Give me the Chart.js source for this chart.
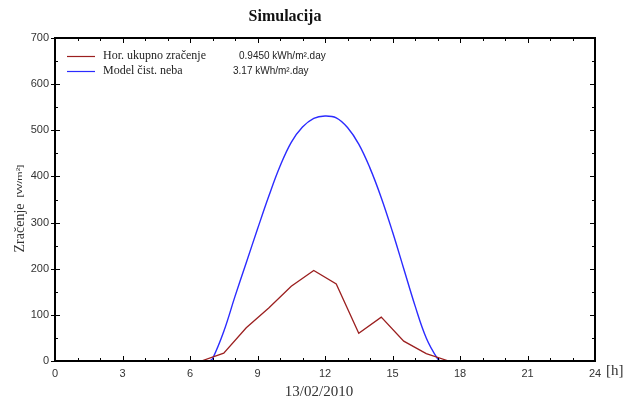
<!DOCTYPE html>
<html>
<head>
<meta charset="utf-8">
<script src="https://cdn.jsdelivr.net/npm/chart.js@4.4.1/dist/chart.umd.min.js"></script>
<style>
html,body{margin:0;padding:0;background:#fff;}
#wrap{width:626px;height:400px;}
</style>
</head>
<body>
<div id="wrap"><canvas id="c" width="626" height="400"></canvas></div>
<script>
// ---- data ----
const redHours  = [0.5,1.5,2.5,3.5,4.5,5.5,6.5,7.5,8.5,9.5,10.5,11.5,12.5,13.5,14.5,15.5,16.5,17.5,18.5,19.5,20.5,21.5,22.5];
const redValues = [0,0,0,0,0,0,0,17,72,115,162,196,167,60,95,43,16,0,0,0,0,0,0];
const blueHours  = [6.85,7.0,7.5,8.0,8.5,9.0,9.5,10.0,10.5,11.0,11.5,12.0,12.5,13.0,13.5,14.0,14.5,15.0,15.5,16.0,16.5,17.0,17.15];
const blueValues = [0,5,64,140,213,286,357,422,474,507,526,531,527,506,470,418,354,280,200,120,50,5,0];
const xTicks = [0,3,6,9,12,15,18,21,24];
const yTicks = [0,100,200,300,400,500,600,700];
const seriesNames = ['Hor. ukupno zra\u010denje','Model \u010dist. neba'];
const seriesTotals = ['0.9450 kWh/m\u00b2.day','3.17 kWh/m\u00b2.day'];
const titleText = 'Simulacija';
const yTitle = 'Zra\u010denje';
const yUnit = '[W/m\u00b2]';
const xTitle = '13/02/2010';
const xUnit = '[h]';

const RED = '#9b1f1f';
const BLUE = '#2b2bff';

const toPts = (xs, ys) => xs.map((x, i) => ({x: x, y: ys[i]}));

const decor = {
  id: 'decor',
  afterDatasetsDraw(chart) {
    const ctx = chart.ctx;
    const a = chart.chartArea;
    const xs = chart.scales.x, ys = chart.scales.y;
    ctx.save();
    ctx.strokeStyle = '#000';
    ctx.lineWidth = 2;
    ctx.strokeRect(a.left, a.top, a.right - a.left, a.bottom - a.top);
    ctx.lineWidth = 1;
    ctx.beginPath();
    for (let h = 0; h <= 24; h++) {
      const px = Math.round(xs.getPixelForValue(h)) + 0.5;
      const len = (h % 3 === 0) ? 5 : 3;
      ctx.moveTo(px, a.bottom); ctx.lineTo(px, a.bottom - len);
      ctx.moveTo(px, a.top); ctx.lineTo(px, a.top + len);
    }
    for (let v = 0; v <= 700; v += 50) {
      const py = Math.round(ys.getPixelForValue(v)) + 0.5;
      const major = v % 100 === 0;
      ctx.moveTo(a.left - (major ? 4 : 0), py); ctx.lineTo(a.left + (major ? 5 : 3), py);
      ctx.moveTo(a.right, py); ctx.lineTo(a.right - (major ? 5 : 3), py);
    }
    ctx.stroke();

    ctx.fillStyle = '#111';
    ctx.textBaseline = 'middle';
    ctx.textAlign = 'center';
    ctx.font = 'bold 16px "Liberation Serif", serif';
    ctx.fillText(titleText, 285, 17);

    ctx.fillStyle = '#333';
    ctx.font = '15px "Liberation Serif", serif';
    ctx.fillText(xTitle, 319, 392);
    ctx.textAlign = 'left';
    ctx.fillText(xUnit, 606, 371);

    ctx.save();
    ctx.translate(20, 228);
    ctx.rotate(-Math.PI / 2);
    ctx.textAlign = 'center';
    ctx.font = '14px "Liberation Serif", serif';
    ctx.fillText(yTitle, 0, 0);
    ctx.restore();
    ctx.save();
    ctx.translate(20, 181);
    ctx.rotate(-Math.PI / 2);
    ctx.scale(1.4, 1);
    ctx.textAlign = 'center';
    ctx.font = '8px "Liberation Sans", sans-serif';
    ctx.fillText(yUnit, 0, 0);
    ctx.restore();

    const colors = [RED, BLUE];
    const rowsY = [56, 71];
    const valX = [239, 233];
    for (let i = 0; i < 2; i++) {
      ctx.strokeStyle = colors[i];
      ctx.lineWidth = 1.2;
      ctx.beginPath();
      ctx.moveTo(67, rowsY[i] + 0.5); ctx.lineTo(95, rowsY[i] + 0.5);
      ctx.stroke();
      ctx.fillStyle = '#222';
      ctx.textAlign = 'left';
      ctx.font = '12px "Liberation Serif", serif';
      ctx.fillText(seriesNames[i], 103, rowsY[i]);
      ctx.font = '10px "Liberation Sans", sans-serif';
      ctx.fillText(seriesTotals[i], valX[i], rowsY[i]);
    }
    ctx.restore();
  }
};

new Chart(document.getElementById('c'), {
  type: 'line',
  data: {
    datasets: [
      {label: seriesNames[0], data: toPts(redHours, redValues), borderColor: RED, borderWidth: 1.3, pointRadius: 0, tension: 0, fill: false},
      {label: seriesNames[1], data: toPts(blueHours, blueValues), borderColor: BLUE, borderWidth: 1.4, pointRadius: 0, tension: 0.4, fill: false}
    ]
  },
  options: {
    responsive: false,
    animation: false,
    layout: {padding: {top: 38, right: 31, left: 0, bottom: 0}},
    plugins: {legend: {display: false}, title: {display: false}, tooltip: {enabled: false}},
    scales: {
      x: {
        type: 'linear', min: 0, max: 24,
        afterFit(s) { s.height = 39; },
        afterBuildTicks(s) { s.ticks = xTicks.map(v => ({value: v})); },
        grid: {display: false, drawTicks: false},
        border: {display: false},
        ticks: {color: '#333', font: {family: '"Liberation Sans", Arial, sans-serif', size: 11}, padding: 6, maxRotation: 0, autoSkip: false}
      },
      y: {
        min: 0, max: 700,
        afterFit(s) { s.width = 55; },
        afterBuildTicks(s) { s.ticks = yTicks.map(v => ({value: v})); },
        grid: {display: false, drawTicks: false},
        border: {display: false},
        ticks: {color: '#333', font: {family: '"Liberation Sans", Arial, sans-serif', size: 11}, padding: 6}
      }
    }
  },
  plugins: [decor]
});
</script>
</body>
</html>
